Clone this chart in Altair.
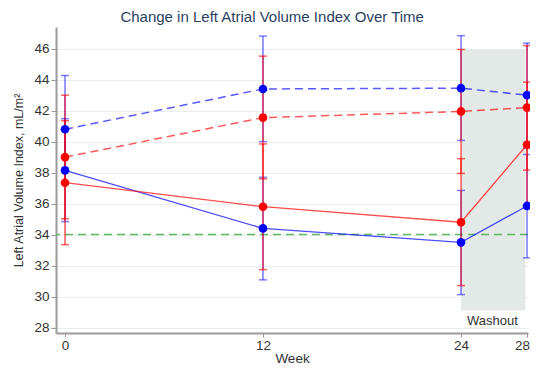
import altair as alt
import pandas as pd

weeks = [0, 12, 24, 28]

# series: mean, lower, upper
blue_dashed_mean = [40.8, 43.4, 43.45, 43.0]
blue_dashed_lo = [37.35, 40.0, 40.08, 39.6]
blue_dashed_hi = [44.27, 46.81, 46.84, 46.36]

red_dashed_mean = [39.0, 41.55, 41.95, 42.2]
red_dashed_lo = [35.02, 37.6, 37.95, 38.16]
red_dashed_hi = [43.0, 45.52, 45.95, 46.2]

blue_solid_mean = [38.15, 34.4, 33.5, 35.85]
blue_solid_lo = [34.84, 31.08, 30.13, 32.5]
blue_solid_hi = [41.48, 37.7, 36.85, 39.17]

red_solid_mean = [37.35, 35.8, 34.8, 39.8]
red_solid_lo = [33.35, 31.74, 30.71, 35.75]
red_solid_hi = [41.35, 39.85, 38.9, 43.84]

reference_value = 34
washout_start, washout_end = 24, 27.9
washout_low, washout_high = 29.1, 45.95
washout_label = "Washout"
washout_label_x, washout_label_y = 25.9, 28.45

y_ticks = [28, 30, 32, 34, 36, 38, 40, 42, 44, 46]
x_ticks = [0, 12, 24, 28]

FONT = "Liberation Sans"

xscale = alt.Scale(domain=[-0.545, 28.06], nice=False, zero=False)
yscale = alt.Scale(domain=[27.65, 47.4], nice=False, zero=False)

x_axis = alt.Axis(values=x_ticks, title="Week", grid=False, labelFont=FONT,
                  labelFontSize=13.5, labelColor="#333", titleFont=FONT,
                  titleFontSize=13.5, titleFontWeight="normal", titleColor="#333",
                  domainColor="#9a9a9a", domainWidth=2, tickColor="#9a9a9a",
                  tickSize=4, labelPadding=1, titlePadding=0, labelFlush=False,
                  labelOverlap=False,
                  labelOffset=alt.expr("datum.value == 28 ? -5 : 0"))
y_axis = alt.Axis(values=y_ticks, title="Left Atrial Volume Index, mL/m²",
                  grid=True, gridColor="#e6eeee", gridWidth=1,
                  labelFont=FONT, labelFontSize=13.5, labelColor="#333",
                  titleFont=FONT, titleFontSize=12.5, titleFontWeight="normal",
                  titleColor="#333", domainColor="#9a9a9a", domainWidth=2,
                  tickColor="#9a9a9a", tickSize=5, labelPadding=2, titlePadding=8,
                  labelOverlap=False, labelFlush=False)


def X(field):
    return alt.X(field, scale=xscale, axis=x_axis)


def Y(field):
    return alt.Y(field, scale=yscale, axis=y_axis)


def series_df(mean, lo, hi):
    return pd.DataFrame({"week": weeks, "mean": mean, "lo": lo, "hi": hi})


rect_df = pd.DataFrame({"x": [washout_start], "x2": [washout_end],
                        "y": [washout_low], "y2": [washout_high]})
shade = alt.Chart(rect_df).mark_rect(color="#e3e9e6").encode(
    x=X("x:Q"), x2="x2:Q", y=Y("y:Q"), y2="y2:Q",
)

ref = alt.Chart(pd.DataFrame({"v": [reference_value]})).mark_rule(
    color="#62b862", strokeWidth=1.5, strokeDash=[8, 5]
).encode(y=Y("v:Q"))

label = alt.Chart(pd.DataFrame({"x": [washout_label_x], "y": [washout_label_y],
                                "t": [washout_label]})).mark_text(
    font=FONT, fontSize=13, color="#333", align="center", baseline="middle"
).encode(x=X("x:Q"), y=Y("y:Q"), text="t:N")


def errbars(df, color, opacity):
    base = alt.Chart(df)
    rule = base.mark_rule(color=color, opacity=opacity, strokeWidth=1.6).encode(
        x=X("week:Q"), y=Y("lo:Q"), y2="hi:Q")
    cap_lo = base.mark_tick(color=color, opacity=opacity, orient="horizontal",
                            size=8, thickness=1.5).encode(
        x=X("week:Q"), y=Y("lo:Q"))
    cap_hi = base.mark_tick(color=color, opacity=opacity, orient="horizontal",
                            size=8, thickness=1.5).encode(
        x=X("week:Q"), y=Y("hi:Q"))
    return [rule, cap_lo, cap_hi]


def line_pts(df, color, dashed):
    base = alt.Chart(df)
    if dashed:
        line = base.mark_line(color=color, opacity=0.65, strokeWidth=1.5,
                              strokeDash=[8, 5])
    else:
        line = base.mark_line(color=color, opacity=0.7, strokeWidth=1.3)
    line = line.encode(x=X("week:Q"), y=Y("mean:Q"))
    pts = base.mark_circle(color=color, opacity=1, size=75).encode(
        x=X("week:Q"), y=Y("mean:Q"))
    return [line, pts]


bd = series_df(blue_dashed_mean, blue_dashed_lo, blue_dashed_hi)
rd = series_df(red_dashed_mean, red_dashed_lo, red_dashed_hi)
bs = series_df(blue_solid_mean, blue_solid_lo, blue_solid_hi)
rs = series_df(red_solid_mean, red_solid_lo, red_solid_hi)

layers = [shade, ref, label]
layers += errbars(bd, "#0000ff", 0.5) + errbars(bs, "#0000ff", 0.5)
layers += errbars(rd, "#ff0000", 0.62) + errbars(rs, "#ff0000", 0.62)
layers += line_pts(bd, "#0000ff", True) + line_pts(rd, "#ff0000", True)
layers += line_pts(bs, "#0000ff", False) + line_pts(rs, "#ff0000", False)

chart = alt.layer(*layers).properties(
    width=472, height=306,
    autosize=alt.AutoSizeParams(type="none"),
    padding={"left": 48, "top": 19, "right": 2, "bottom": 33},
    title=alt.TitleParams("Change in Left Atrial Volume Index Over Time",
                          font=FONT, fontSize=15, fontWeight="normal",
                          color="#2a3f5f", offset=2,
                          anchor="middle", frame="bounds"),
).configure_view(stroke=None)

chart.save("out.html", embed_options={"renderer": "svg", "actions": False})
